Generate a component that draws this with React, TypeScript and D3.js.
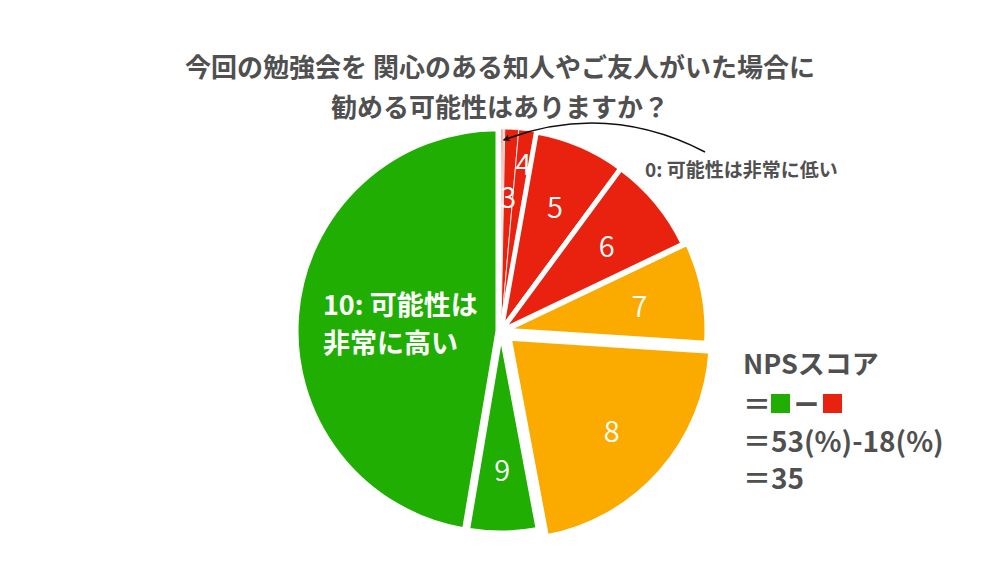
import React from "react";
import * as d3 from "d3";

// NPSアンケートの回答分布 (%)
const scores = ["0", "1", "2", "3", "4", "5", "6", "7", "8", "9", "10"];
const shares = [0.1, 0.1, 0.1, 1.1, 1.4, 7.3, 7.8, 8.1, 21.0, 5.6, 47.3];
const groups = [
  "detractor", "detractor", "detractor", "detractor", "detractor", "detractor", "detractor",
  "passive", "passive",
  "promoter", "promoter",
];
const groupNames = ["detractor", "passive", "promoter"];
const titleLines = [
  "今回の勉強会を 関心のある知人やご友人がいた場合に",
  "勧める可能性はありますか？",
];
const lowLabel = "0: 可能性は非常に低い";
const highLabel = ["10: 可能性は", "非常に高い"];
const npsTitle = "NPSスコア";

interface Datum {
  score: string;
  value: number;
  group: string;
}

const width = 1000;
const height = 563;
const cx = 501;
const cy = 331;
const R = 202;
const font = "'Noto Sans CJK JP', 'Noto Sans', sans-serif";
const gray = "#505050";

// 切り出し量 (px)
const explode: Record<string, number> = { "7": 4, "8": 11, "10": 3 };

const App: React.FC = () => {
  const data: Datum[] = scores.map((s, i) => ({ score: s, value: shares[i], group: groups[i] }));

  const pie = d3
    .pie<Datum>()
    .sort(null)
    .value((d) => d.value);
  const arcs = pie(data);

  const arc = d3
    .arc<d3.PieArcDatum<Datum>>()
    .innerRadius(0)
    .outerRadius(R);

  const color = d3
    .scaleOrdinal<string, string>()
    .domain(groupNames)
    .range(["#e8220e", "#fbab00", "#21ae03"]);

  const mid = (a: d3.PieArcDatum<Datum>) => (a.startAngle + a.endAngle) / 2;
  const offset = (a: d3.PieArcDatum<Datum>) => {
    const o = explode[a.data.score] ?? 0;
    return [Math.sin(mid(a)) * o, -Math.cos(mid(a)) * o];
  };
  const polar = (angle: number, r: number) => [Math.sin(angle) * r, -Math.cos(angle) * r];

  // NPS の計算
  const pct = (g: string) => Math.round(d3.sum(data.filter((d) => d.group === g), (d) => d.value));
  const promoters = pct("promoter");
  const detractors = pct("detractor");
  const nps = promoters - detractors;

  // 0 のスライスへの矢印
  const zero = arcs[0];
  const [tx, ty] = polar(mid(zero), R - 8);
  const arrowStart: [number, number] = [204, -179];
  const arrowCtrl: [number, number] = [105, -230];
  const arrowPath = d3.path();
  arrowPath.moveTo(arrowStart[0], arrowStart[1]);
  arrowPath.quadraticCurveTo(arrowCtrl[0], arrowCtrl[1], tx + 2, ty + 3);

  const ten = arcs[10];
  const [hx, hy] = polar(mid(ten), R * 0.87);
  const [tox, toy] = offset(ten);

  return (
    <svg
      width={width}
      height={height}
      style={{ position: "absolute", left: 0, top: 0, background: "#fff" }}
      fontFamily={font}
    >
      <defs>
        <marker
          id="arrow"
          viewBox="0 0 10 10"
          refX={9}
          refY={5}
          markerWidth={7}
          markerHeight={7}
          markerUnits="userSpaceOnUse"
          orient="auto"
        >
          <path d="M0,0 L10,5 L0,10 L3,5 z" fill="#111" />
        </marker>
      </defs>

      {titleLines.map((t, i) => (
        <text
          key={t}
          x={width / 2}
          y={65 + i * 40}
          textAnchor="middle"
          dominantBaseline="central"
          fontSize={26}
          fontWeight="bold"
          fill={gray}
        >
          {t}
        </text>
      ))}

      <g transform={`translate(${cx},${cy})`}>
        {arcs.map((a) => {
          const [dx, dy] = offset(a);
          return (
            <path
              key={a.data.score}
              d={arc(a) ?? ""}
              transform={`translate(${dx},${dy})`}
              fill={color(a.data.group)}
              stroke="#fff"
              strokeWidth={a.data.value < 2 ? 0.8 : 5}
              strokeLinejoin="round"
            />
          );
        })}

        {arcs
          .filter((a) => +a.data.score >= 3 && +a.data.score <= 9)
          .map((a) => {
            const r = a.data.value < 1.3 ? 136 : a.data.value < 2 ? 170 : 137;
            const [x, y] = polar(mid(a), r);
            const [dx, dy] = offset(a);
            return (
              <text
                key={a.data.score}
                x={x + dx}
                y={y + dy}
                textAnchor="middle"
                dominantBaseline="central"
                fontSize={29}
                fontWeight={350}
                fill="#fff"
              >
                {a.data.score}
              </text>
            );
          })}

        {highLabel.map((t, i) => (
          <text
            key={t}
            x={hx + tox}
            y={hy + toy - 13 + i * 38}
            dominantBaseline="central"
            fontSize={27}
            fontWeight="bold"
            fill="#fff"
          >
            {t}
          </text>
        ))}

        <path
          d={arrowPath.toString()}
          fill="none"
          stroke="#111"
          strokeWidth={1.5}
          markerEnd="url(#arrow)"
        />
        <text x={144} y={-163} dominantBaseline="central" fontSize={19} fontWeight="bold" fill={gray}>
          {lowLabel}
        </text>
      </g>

      <g transform="translate(743,0)" fill={gray} fontWeight="bold" fontSize={28}>
        <text x={0} y={362} dominantBaseline="central" fontSize={27}>
          {npsTitle}
        </text>
        <text x={0} y={403} dominantBaseline="central">
          ＝
        </text>
        <rect x={28} y={394} width={19} height={19} fill={color("promoter")} />
        <text x={51} y={403} dominantBaseline="central" fontSize={25}>
          ー
        </text>
        <rect x={80} y={394} width={19} height={19} fill={color("detractor")} />
        <text x={0} y={440} dominantBaseline="central">
          {`＝${promoters}(%)-${detractors}(%)`}
        </text>
        <text x={0} y={477} dominantBaseline="central">
          {`＝${nps}`}
        </text>
      </g>
    </svg>
  );
};

export default App;
